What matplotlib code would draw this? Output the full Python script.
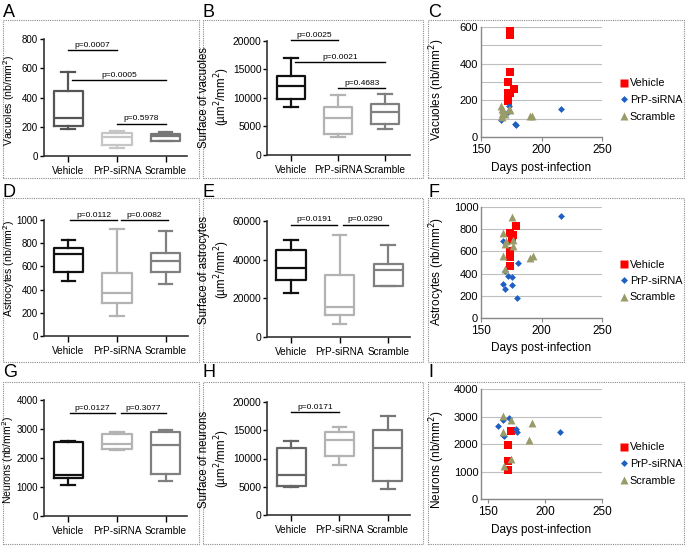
import matplotlib.pyplot as plt
from matplotlib.patches import Rectangle
from matplotlib.lines import Line2D

plt.rcParams['font.family'] = ['Liberation Sans', 'DejaVu Sans']

W, H = 686, 549
groups = ['Vehicle', 'PrP-siRNA', 'Scramble']

# box plot summaries: [Vehicle, PrP-siRNA, Scramble]
vac_lo = [187, 57, 100]
vac_q1 = [206, 78, 101]
vac_med = [261, 130, 135]
vac_q3 = [446, 160, 153]
vac_hi = [576, 168, 166]

svac_lo = [8420, 3160, 4560]
svac_q1 = [9820, 3680, 5440]
svac_med = [12100, 6490, 7540]
svac_q3 = [13860, 8420, 8950]
svac_hi = [17020, 10530, 10700]

ast_lo = [476, 170, 452]
ast_q1 = [553, 285, 553]
ast_med = [706, 372, 646]
ast_q3 = [761, 539, 712]
ast_hi = [827, 919, 908]

sast_lo = [22760, 6550, 26210]
sast_q1 = [29660, 11210, 26550]
sast_med = [35860, 15520, 34830]
sast_q3 = [45170, 31900, 37590]
sast_hi = [50340, 53000, 47760]

neu_lo = [1060, 2271, 1199]
neu_q1 = [1326, 2305, 1441]
neu_med = [1406, 2490, 2444]
neu_q3 = [2540, 2813, 2882]
neu_hi = [2580, 2882, 2963]

sneu_lo = [4960, 8850, 4590]
sneu_q1 = [5130, 10440, 6100]
sneu_med = [7080, 13270, 11860]
sneu_q3 = [11860, 14690, 15120]
sneu_hi = [13100, 15570, 17560]

# p-value bars: (x from, x to, y, text)
vac_p = [(1.0, 2.0, 725, 'p=0.0007'), (1.08, 3.0, 519, 'p=0.0005'), (2.0, 3.0, 222, 'p=0.5978')]
svac_p = [(1.0, 2.0, 20100, 'p=0.0025'), (1.085, 3.0, 16300, 'p=0.0021'), (2.0, 3.0, 11750, 'p=0.4683')]
ast_p = [(1.04, 2.0, 1000, 'p=0.0112'), (2.08, 3.04, 1000, 'p=0.0082')]
sast_p = [(1.0, 1.95, 58100, 'p=0.0191'), (2.06, 3.0, 58100, 'p=0.0290')]
neu_p = [(1.03, 1.95, 3540, 'p=0.0127'), (2.08, 3.0, 3540, 'p=0.3077')]
sneu_p = [(1.0, 2.0, 18230, 'p=0.0171')]

# scatter: days post-infection vs value
vac_veh_d = [173.9, 173.9, 173.9, 172, 177.5, 172.5, 173.9, 172]
vac_veh_v = [578, 555, 355, 300, 264, 242, 242, 195]
vac_prp_d = [166.5, 178, 179, 216, 173, 172.5]
vac_prp_v = [91, 69, 64, 155, 167, 136]
vac_scr_d = [166.5, 167, 168.4, 169.8, 167, 173, 173.9, 190.4, 192.3, 167.6]
vac_scr_v = [167, 155, 145, 127, 109, 155, 149, 113, 113, 127]

ast_veh_d = [173.9, 176.6, 178.8, 175.8, 173.9, 173.9, 173.9]
ast_veh_v = [766, 751, 826, 706, 601, 550, 471]
ast_prp_d = [168.4, 169.8, 172, 175.3, 176, 168.4, 169.8, 180.8, 179.7, 216.5]
ast_prp_v = [691, 420, 381, 366, 300, 306, 261, 495, 180, 922]
ast_scr_d = [175.3, 168.4, 171, 169.8, 176.6, 176.6, 168.4, 169.8, 190.4, 193]
ast_scr_v = [910, 766, 691, 667, 706, 646, 556, 441, 541, 556]

neu_veh_d = [170, 168, 168, 168]
neu_veh_v = [2485, 1964, 1394, 1067]
neu_prp_d = [159.2, 163, 168.6, 163, 164.2, 174.4, 175.6, 213.6]
neu_prp_v = [2667, 2885, 2933, 2327, 2279, 2545, 2448, 2424]
neu_scr_d = [163, 170, 163, 164.2, 170, 188.4, 186.1]
neu_scr_v = [3030, 2885, 2448, 1212, 1455, 2764, 2158]

fig = plt.figure(figsize=(6.86, 5.49), dpi=100)


def px_axes(x0, y0, x1, y1):
    return fig.add_axes([x0 / W, 1 - y1 / H, (x1 - x0) / W, (y1 - y0) / H])


def frame(x0, y0, x1, y1):
    fig.add_artist(Rectangle((x0 / W, 1 - y1 / H), (x1 - x0) / W, (y1 - y0) / H,
                             transform=fig.transFigure, fill=False,
                             ls=(0, (1, 1)), ec='#8a8a8a', lw=0.8))


def ftext(x, y, s, **kw):
    fig.text(x / W, 1 - y / H, s, **kw)


def box_panel(ax, lo, q1, med, q3, hi, colors, top, step, pvals, xlim, ysize=7.4):
    for i in range(3):
        st = dict(whislo=lo[i], q1=q1[i], med=med[i], q3=q3[i], whishi=hi[i])
        lp = dict(color=colors[i], lw=1.6)
        ax.bxp([st], positions=[i + 1], widths=0.6, capwidths=0.28, showfliers=False,
               boxprops=lp, medianprops=lp, whiskerprops=lp, capprops=lp,
               manage_ticks=False)
    ax.set_xlim(xlim)
    ax.set_ylim(0, top)
    ax.set_xticks([1, 2, 3])
    ax.set_xticklabels(groups, fontsize=7.2)
    ax.set_yticks(range(0, top + 1, step))
    ax.tick_params(axis='y', labelsize=ysize, length=3, width=1, pad=1)
    ax.tick_params(axis='x', length=4, width=1, pad=3)
    for s in ['top', 'right']:
        ax.spines[s].set_visible(False)
    for s in ['left', 'bottom']:
        ax.spines[s].set_linewidth(1.2)
        ax.spines[s].set_color('#333333')
    ax.patch.set_alpha(0)
    for x1, x2, y, t in pvals:
        ax.plot([x1, x2], [y, y], color='black', lw=1, clip_on=False)
        ax.annotate(t, ((x1 + x2) / 2, y), xytext=(0, 1), textcoords='offset points',
                    ha='center', va='bottom', fontsize=6, annotation_clip=False)


red, blue, olive = '#ff0000', '#1f5fc4', '#999b68'


def scatter_panel(ax, vd, vv, pd_, pv, sd, sv, xlim, top, grid, lab, legy):
    ax.scatter(vd, vv, marker='s', s=30, c=red, lw=0, zorder=3)
    ax.scatter(pd_, pv, marker='D', s=12, c=blue, lw=0, zorder=3)
    ax.scatter(sd, sv, marker='^', s=32, c=olive, lw=0, zorder=3)
    ax.set_xlim(xlim)
    ax.set_ylim(0, top)
    ax.set_xticks([150, 200, 250])
    ax.set_yticks(range(0, top + 1, grid))
    ax.set_yticklabels([str(v) if v % lab == 0 else '' for v in range(0, top + 1, grid)])
    ax.grid(axis='y', color='#bfbfbf', lw=0.8)
    ax.set_axisbelow(True)
    ax.tick_params(axis='y', labelsize=8, length=0, pad=2)
    ax.tick_params(axis='x', labelsize=8.5, length=3, color='#888888', pad=2)
    for s in ['top', 'right']:
        ax.spines[s].set_visible(False)
    for s in ['left', 'bottom']:
        ax.spines[s].set_color('#888888')
        ax.spines[s].set_linewidth(1)
    ax.set_xlabel('Days post-infection', fontsize=8.5, labelpad=4)
    handles = [Line2D([], [], ls='', marker='s', ms=5.5, mfc=red, mec='none'),
               Line2D([], [], ls='', marker='D', ms=3.5, mfc=blue, mec='none'),
               Line2D([], [], ls='', marker='^', ms=6, mfc=olive, mec='none')]
    fig.legend(handles, groups, loc='center left', bbox_to_anchor=(620 / W, 1 - legy / H),
               frameon=False, fontsize=7.8, handlelength=0.7, handletextpad=0.2,
               labelspacing=0.6, borderpad=0, borderaxespad=0)


# frames
cols = [(3, 199), (203, 423), (428, 684)]
rows = [(20, 178), (198, 362), (382, 544)]
for (x0, x1) in cols:
    for (y0, y1) in rows:
        frame(x0, y0, x1, y1)

letters = ['A', 'B', 'C', 'D', 'E', 'F', 'G', 'H', 'I']
lpos = [(3, 4), (203, 4), (428, 4), (3, 184), (203, 184), (428, 184), (3, 364), (203, 364), (428, 364)]
for l, (x, y) in zip(letters, lpos):
    ftext(x, y, l, fontsize=13, va='top', ha='left')

c1 = ['#555555', '#c6c6c6', '#777777']
c2 = ['#111111', '#b3b3b3', '#808080']
c3 = ['#666666', '#b3b3b3', '#777777']

axA = px_axes(43.5, 39, 187, 156)
box_panel(axA, vac_lo, vac_q1, vac_med, vac_q3, vac_hi, c1, 800, 200, vac_p, (0.49, 3.44), 7.0)
ftext(8.8, 100, 'Vacuoles (nb/mm$^2$)', rotation=90, ha='center', va='center', fontsize=7.6)

axB = px_axes(267, 41, 410, 155)
box_panel(axB, svac_lo, svac_q1, svac_med, svac_q3, svac_hi, c2, 20000, 5000, svac_p, (0.49, 3.53))
ftext(215, 97, 'Surface of vacuoles\n(µm$^2$/mm$^2$)', rotation=90, ha='center', va='center',
      fontsize=8.3, multialignment='center')

axD = px_axes(43.5, 220, 188, 336)
box_panel(axD, ast_lo, ast_q1, ast_med, ast_q3, ast_hi, c2, 1000, 200, ast_p, (0.49, 3.46), 7.0)
ftext(8.8, 268, 'Astrocytes (nb/mm$^2$)', rotation=90, ha='center', va='center', fontsize=7.6)

axE = px_axes(267, 221, 410, 337)
box_panel(axE, sast_lo, sast_q1, sast_med, sast_q3, sast_hi, c2, 60000, 20000, sast_p, (0.505, 3.45))
ftext(215, 270, 'Surface of astrocytes\n(µm$^2$/mm$^2$)', rotation=90, ha='center', va='center',
      fontsize=8.3, multialignment='center')

axG = px_axes(43.5, 400, 187, 516)
box_panel(axG, neu_lo, neu_q1, neu_med, neu_q3, neu_hi, c2, 4000, 1000, neu_p, (0.49, 3.44), 7.0)
ftext(8.5, 460, 'Neurons (nb/mm$^2$)', rotation=90, ha='center', va='center', fontsize=7.6)

axH = px_axes(267, 402, 410, 515)
box_panel(axH, sneu_lo, sneu_q1, sneu_med, sneu_q3, sneu_hi, c3, 20000, 5000, sneu_p, (0.5, 3.46))
ftext(215, 459, 'Surface of neurons\n(µm$^2$/mm$^2$)', rotation=90, ha='center', va='center',
      fontsize=8.3, multialignment='center')

axC = px_axes(481, 27, 602, 137)
scatter_panel(axC, vac_veh_d, vac_veh_v, vac_prp_d, vac_prp_v, vac_scr_d, vac_scr_v,
              (150, 250), 600, 100, 200, 100)
ftext(437, 90, 'Vacuoles (nb/mm$^2$)', rotation=90, ha='center', va='center', fontsize=8.5)

axF = px_axes(481, 207, 602, 318)
scatter_panel(axF, ast_veh_d, ast_veh_v, ast_prp_d, ast_prp_v, ast_scr_d, ast_scr_v,
              (150, 250), 1000, 200, 200, 281)
ftext(437, 272, 'Astrocytes (nb/mm$^2$)', rotation=90, ha='center', va='center', fontsize=8.5)

axI = px_axes(481, 389, 602, 499)
scatter_panel(axI, neu_veh_d, neu_veh_v, neu_prp_d, neu_prp_v, neu_scr_d, neu_scr_v,
              (144, 250), 4000, 1000, 1000, 464)
ftext(437, 460, 'Neurons (nb/mm$^2$)', rotation=90, ha='center', va='center', fontsize=8.5)

fig.savefig('out.png', dpi=100)
